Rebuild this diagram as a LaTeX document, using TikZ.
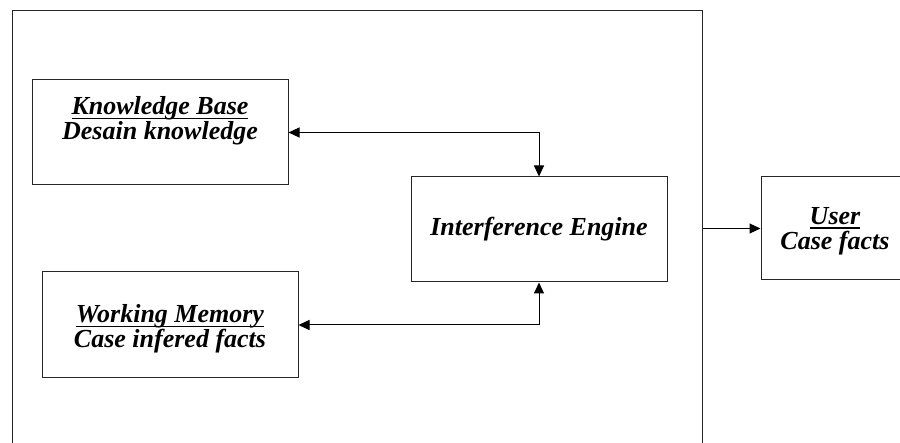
\documentclass[tikz,border=0pt]{standalone}
\usepackage{fontspec}
\setmainfont{Liberation Serif}
\usetikzlibrary{arrows.meta}
% heavy underline set a little below the baseline
\newcommand\heavyul[1]{\setbox0\hbox{#1}\leavevmode\rlap{\rule[-4.5pt]{\wd0}{1.6pt}}\box0}
\begin{document}
\begin{tikzpicture}[x=1pt,y=-1pt,
  box/.style={draw=black!85, line width=1pt, inner sep=0pt},
  lbl/.style={align=center, font=\fontsize{26}{25}\selectfont\bfseries\itshape, inner sep=0pt},
  link/.style={line width=1pt, {Triangle[length=11pt,width=10pt]}-{Triangle[length=11pt,width=10pt]}},
  oneway/.style={line width=1pt, -{Triangle[length=11pt,width=10pt]}}]
\useasboundingbox (0,0) rectangle (900,443);
% system frame, its lower edge runs off the page
\node[box, anchor=north west, minimum width=690pt, minimum height=470pt] (sys) at (12,10) {};
% components inside the system
\node[box, minimum width=256pt, minimum height=105pt] (kb) at (160,132.5) {};
\node[lbl] (kbtext) at (160,121) {\heavyul{Knowledge Base}\\Desain knowledge};
\node[box, minimum width=256pt, minimum height=105pt] (ie) at (539,229.5) {};
\node[lbl] (ietext) at (539,229.5) {Interference Engine};
\node[box, minimum width=256pt, minimum height=106pt] (wm) at (170,325) {};
\node[lbl] (wmtext) at (170,329) {\heavyul{Working Memory}\\Case infered facts};
% user outside the system
\node[box, minimum width=148pt, minimum height=103pt] (user) at (835,228.5) {};
\node[lbl] (usertext) at (835,231) {\heavyul{User}\\Case facts};
% connectors
\draw[link] (kb.east) -| (ie.north);
\draw[link] (wm.east) -| (ie.south);
\draw[oneway] (user.west -| sys.east) -- (user.west);
\end{tikzpicture}
\end{document}
